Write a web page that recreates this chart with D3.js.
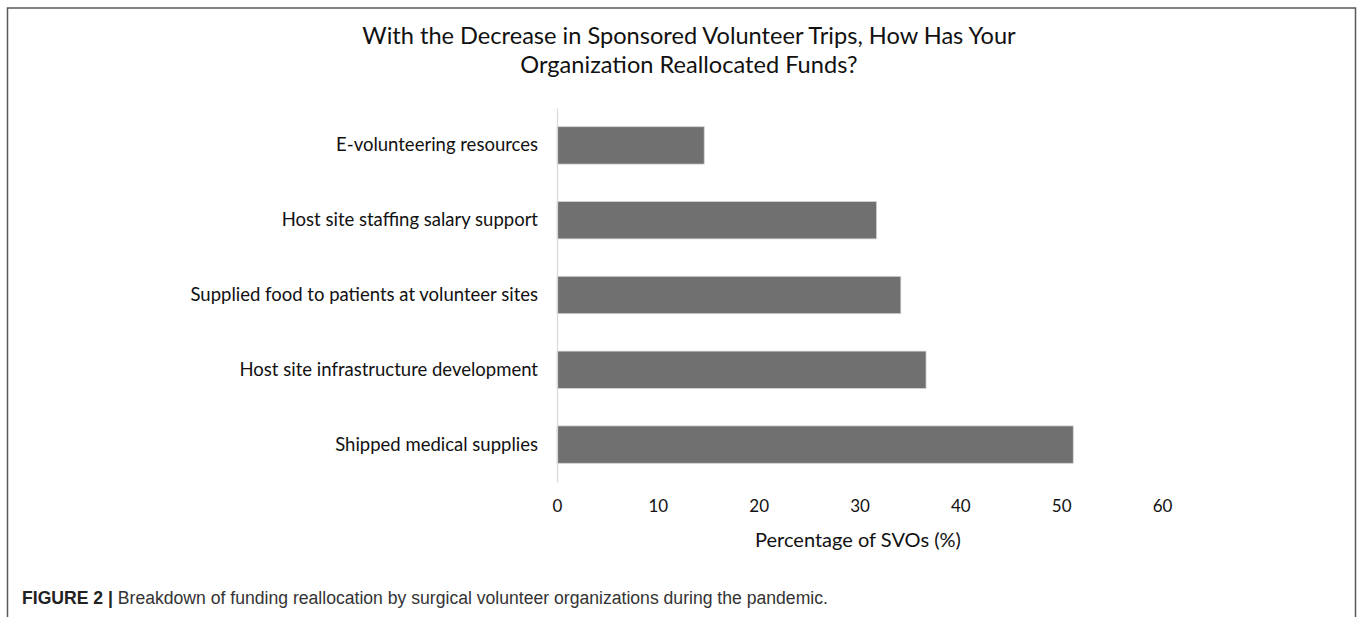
<!DOCTYPE html>
<html>
<head>
<meta charset="utf-8">
<script src="https://cdn.jsdelivr.net/npm/d3@7"></script>
<style>
  html, body { margin: 0; padding: 0; background: #fff; }
  svg { display: block; }
</style>
</head>
<body>
<svg id="chart" width="1358" height="617"></svg>
<script>
// Categories, top to bottom
const categories = [
  "E-volunteering resources",
  "Host site staffing salary support",
  "Supplied food to patients at volunteer sites",
  "Host site infrastructure development",
  "Shipped medical supplies"
];
// Share of SVOs (%) per category
const values = [14.6, 31.7, 34.1, 36.6, 51.2];
// Tick labels on the x axis
const xTicks = [0, 10, 20, 30, 40, 50, 60];

const titleLines = [
  "With the Decrease in Sponsored Volunteer Trips, How Has Your",
  "Organization Reallocated Funds?"
];
const xTitle = "Percentage of SVOs (%)";

const svg = d3.select("#chart");
const W = 1358, H = 617;
const chartFont = "Lato, 'Open Sans', sans-serif";

// Figure frame (open at the bottom)
svg.append("path")
  .attr("d", `M7.5,${H} V8 H1355.5 V${H}`)
  .attr("fill", "none")
  .attr("stroke", "#5a5a5a")
  .attr("stroke-width", 1.5);

const x = d3.scaleLinear().domain([0, 60]).range([557, 1162]);
const y = d3.scaleBand().domain(categories).range([108, 482])
  .paddingInner(0.5).paddingOuter(0.25);

// Title
svg.append("g").selectAll("text")
  .data(titleLines)
  .join("text")
  .attr("x", 689)
  .attr("y", (d, i) => 44 + i * 28.5)
  .attr("text-anchor", "middle")
  .attr("font-family", chartFont)
  .attr("font-size", 23.6)
  .attr("fill", "#111")
  .text(d => d);

// Bars
svg.append("g").selectAll("rect")
  .data(values)
  .join("rect")
  .attr("x", x(0))
  .attr("y", (d, i) => y(categories[i]))
  .attr("width", d => x(d) - x(0))
  .attr("height", y.bandwidth())
  .attr("fill", "#707070")
  .attr("stroke", "#d4d4d4")
  .attr("stroke-width", 0.8);

// Category axis
const yAxis = svg.append("g")
  .attr("transform", `translate(${x(0)},0)`)
  .call(d3.axisLeft(y).tickSize(0).tickPadding(19));
yAxis.select(".domain").attr("stroke", "#d9d9d9").attr("stroke-width", 1.2);
yAxis.selectAll("text")
  .attr("font-family", chartFont)
  .attr("font-size", 18.5)
  .attr("fill", "#111");

// Value axis (labels only)
const xAxis = svg.append("g")
  .attr("transform", `translate(0,482)`)
  .call(d3.axisBottom(x).tickValues(xTicks).tickSize(0).tickPadding(18));
xAxis.select(".domain").remove();
xAxis.selectAll("text")
  .attr("font-family", chartFont)
  .attr("font-size", 17)
  .attr("fill", "#111");

// Axis title
svg.append("text")
  .attr("x", 858)
  .attr("y", 547)
  .attr("text-anchor", "middle")
  .attr("font-family", chartFont)
  .attr("font-size", 20)
  .attr("fill", "#111")
  .text(xTitle);

// Caption
const cap = svg.append("text")
  .attr("x", 22)
  .attr("y", 604)
  .attr("font-family", "'Liberation Sans', Arial, sans-serif")
  .attr("font-size", 17.6)
  .attr("fill", "#333");
cap.append("tspan").attr("font-weight", "bold").attr("fill", "#222").text("FIGURE 2 | ");
cap.append("tspan").text("Breakdown of funding reallocation by surgical volunteer organizations during the pandemic.");
</script>
</body>
</html>
